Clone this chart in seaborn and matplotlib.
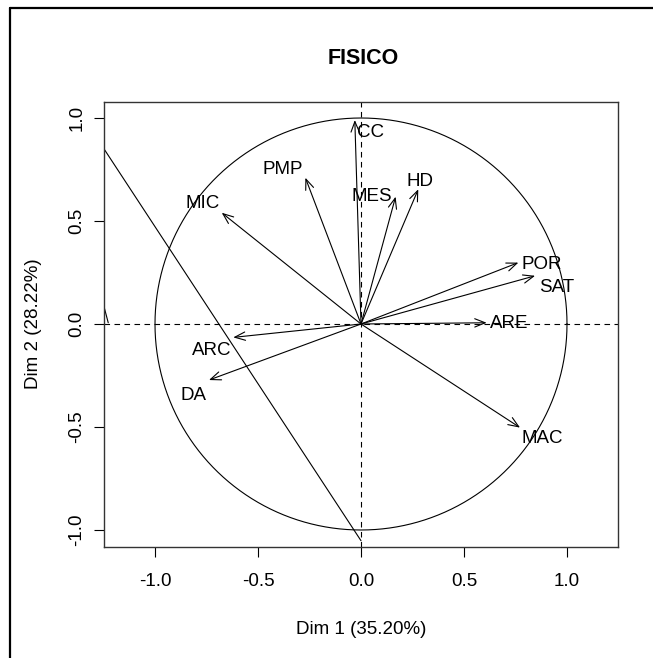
import numpy as np
import pandas as pd
import matplotlib
matplotlib.use("Agg")
import matplotlib.pyplot as plt
from matplotlib.lines import Line2D
import seaborn as sns

# ---- data ----
variables = ["CC", "PMP", "MIC", "MES", "HD", "POR", "SAT", "ARE", "MAC", "ARC", "DA"]
dim1 = [-0.03, -0.27, -0.676, 0.168, 0.278, 0.764, 0.845, 0.61, 0.772, -0.62, -0.738]
dim2 = [0.99, 0.71, 0.54, 0.618, 0.654, 0.298, 0.234, 0.006, -0.503, -0.065, -0.272]
# label offsets (pixels) relative to arrow tips
label_dx = [16, -23, -19, -24, 2, 23, 22, 23, 22, -22, -15]
label_dy = [-12, 8, 9, 0, 8, -2, -12, -1, -11, -13, -15]
# stray lines visible in the picture
stray1_x = [-1.30, 0.0]
stray1_y = [0.93, -1.052]
stray2_x = [-1.27, -1.227]
stray2_y = [0.17, 0.006]

xticks = [-1.0, -0.5, 0.0, 0.5, 1.0]
xtick_labels = ["-1.0", "-0.5", "0.0", "0.5", "1.0"]
yticks = [-1.0, -0.5, 0.0, 0.5, 1.0]
ytick_labels = ["-1.0", "-0.5", "0.0", "0.5", "1.0"]
title = "FISICO"
xlabel = "Dim 1 (35.20%)"
ylabel = "Dim 2 (28.22%)"

df = pd.DataFrame({"var": variables, "Dim1": dim1, "Dim2": dim2})

sns.set_theme(style="white")
plt.rcParams["font.family"] = ["Liberation Sans", "DejaVu Sans"]
plt.rcParams["text.color"] = "black"

W, H = 653, 658
fig = plt.figure(figsize=(W / 100, H / 100), dpi=100)
fig.patch.set_facecolor("white")
L, R, T, B = 104, 618, 102, 547
ax = fig.add_axes([L / W, 1 - B / H, (R - L) / W, (B - T) / H])
ax.set_facecolor("white")

# unit circle
theta = np.linspace(0, 2 * np.pi, 361)
circ = pd.DataFrame({"x": np.cos(theta), "y": np.sin(theta)})
sns.lineplot(data=circ, x="x", y="y", sort=False, estimator=None, color="black",
             lw=0.8, ax=ax)

# dashed axes
ax.axhline(0, color="black", lw=0.8, ls=(0, (5, 4)))
ax.axvline(0, color="black", lw=0.8, ls=(0, (5, 4)))

# stray lines
sns.lineplot(x=stray1_x, y=stray1_y, sort=False, estimator=None, color="black", lw=0.8, ax=ax)
sns.lineplot(x=stray2_x, y=stray2_y, sort=False, estimator=None, color="black", lw=0.8, ax=ax)

# arrows + labels
for _, r in df.iterrows():
    ax.annotate("", xy=(r.Dim1, r.Dim2), xytext=(0, 0),
                arrowprops=dict(arrowstyle="->,head_length=0.75,head_width=0.3",
                                lw=0.8, color="black", shrinkA=0, shrinkB=0,
                                mutation_scale=10))
for v, x, y, dx, dy in zip(variables, dim1, dim2, label_dx, label_dy):
    ax.annotate(v, xy=(x, y), xytext=(dx, dy), textcoords="offset pixels",
                ha="center", va="center", fontsize=13.5, color="black")

ax.set_xlim((L - 361) / 206, (R - 361) / 206)
ax.set_ylim((324 - B) / 206, (324 - T) / 206)
ax.set_xticks(xticks)
ax.set_xticklabels(xtick_labels)
ax.set_yticks(yticks)
ax.set_yticklabels(ytick_labels, rotation=90, va="center")
ax.tick_params(axis="both", direction="out", length=7.5, width=0.8, color="black",
               labelsize=13.5, labelcolor="black", bottom=True, left=True)
ax.tick_params(axis="x", pad=11)
ax.tick_params(axis="y", pad=6)
ax.set_xlabel("")
ax.set_ylabel("")
for s in ax.spines.values():
    s.set_visible(True)
    s.set_color("#333333")
    s.set_linewidth(1.0)

fig.text((L + R) / 2 / W + 0.004, 1 - 58 / H, title, ha="center", va="center",
         fontsize=15.5, fontweight="bold", color="black")
fig.text((L + R) / 2 / W, 1 - 630 / H, xlabel, ha="center", va="center",
         fontsize=13.5, color="black")
fig.text(33 / W, 1 - 324 / H, ylabel, ha="center", va="center", rotation=90,
         fontsize=13.5, color="black")

# outer frame (partially visible)
fig.add_artist(Line2D([10 / W, 10 / W], [0, 1 - 8 / H], transform=fig.transFigure,
                      color="black", lw=1.6))
fig.add_artist(Line2D([10 / W, 1], [1 - 8 / H, 1 - 8 / H], transform=fig.transFigure,
                      color="black", lw=1.6))

fig.savefig("out.png", dpi=100, facecolor="white")
